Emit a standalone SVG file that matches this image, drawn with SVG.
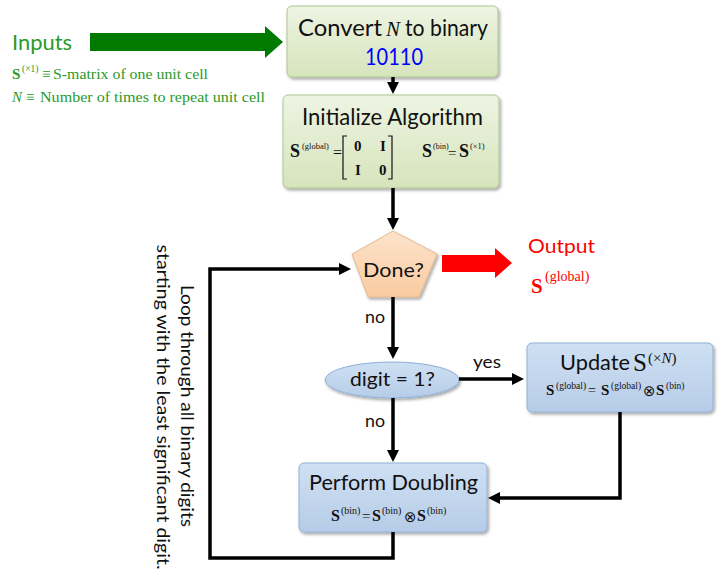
<svg xmlns="http://www.w3.org/2000/svg" width="719" height="581" viewBox="0 0 719 581">
  <defs>
    <linearGradient id="gGreen" x1="0" y1="0" x2="0" y2="1">
      <stop offset="0" stop-color="#EEF4E3"/>
      <stop offset="1" stop-color="#D6E4BC"/>
    </linearGradient>
    <linearGradient id="gBlue" x1="0" y1="0" x2="0" y2="1">
      <stop offset="0" stop-color="#CFE0F3"/>
      <stop offset="1" stop-color="#B6CCE7"/>
    </linearGradient>
    <linearGradient id="gPeach" x1="0" y1="0" x2="0" y2="1">
      <stop offset="0" stop-color="#FDE3CB"/>
      <stop offset="1" stop-color="#F9CBA1"/>
    </linearGradient>
    <filter id="shadow" x="-10%" y="-10%" width="125%" height="130%">
      <feDropShadow dx="1.5" dy="2" stdDeviation="1.4" flood-color="#000" flood-opacity="0.35"/>
    </filter>
    <marker id="head" markerUnits="userSpaceOnUse" markerWidth="13" markerHeight="13" refX="1" refY="6" orient="auto">
      <path d="M0,0 L12,6 L0,12 z" fill="#000"/>
    </marker>
  </defs>
  <style>
    .sans { font-family: Lato, "Open Sans", "Liberation Sans", sans-serif; }
    .serif { font-family: "Liberation Serif", "Times New Roman", serif; }
    .op { font-family: "DejaVu Sans", "DejaVu Serif", sans-serif; }
    .title { font-size: 22.5px; fill: #111; }
    .lbl { font-size: 18px; fill: #111; }
    .bS { font-weight: bold; }
    .sup { font-size: 9.5px; }
    .conn { fill: none; stroke: #000; stroke-width: 3.5; stroke-linejoin: miter; }
    .boxG { fill: url(#gGreen); stroke: #AFC58F; stroke-width: 1; filter: url(#shadow); }
    .boxB { fill: url(#gBlue); stroke: #8FB0D8; stroke-width: 1; filter: url(#shadow); }
  </style>

  <!-- inputs block -->
  <g id="inputs">
    <text class="sans" x="12" y="50" font-size="22" fill="#2A9A2A" textLength="60" lengthAdjust="spacingAndGlyphs">Inputs</text>
    <path d="M90,33 L265,33 L265,26 L283,42 L265,58 L265,51 L90,51 z" fill="#007A00"/>
    <g class="serif" fill="#2A9A2A" font-size="15">
      <text x="12" y="79" class="bS" font-size="15">S</text>
      <text x="22" y="72" class="sup">(×1)</text>
      <text x="42" y="79">≡</text>
      <text x="53" y="79" textLength="155" lengthAdjust="spacingAndGlyphs">S-matrix of one unit cell</text>
      <text x="12" y="102" font-style="italic">N</text>
      <text x="26" y="102">≡</text>
      <text x="40" y="102" textLength="225" lengthAdjust="spacingAndGlyphs">Number of times to repeat unit cell</text>
    </g>
  </g>

  <!-- convert N to binary -->
  <g id="convert">
    <rect class="boxG" x="287" y="6" width="211" height="71" rx="5"/>
    <text class="sans title" x="298" y="36" textLength="84" lengthAdjust="spacingAndGlyphs">Convert</text>
    <text class="serif" x="386" y="36" font-size="21" font-style="italic" fill="#111">N</text>
    <text class="sans title" x="405" y="36" textLength="83" lengthAdjust="spacingAndGlyphs">to binary</text>
    <text class="sans" x="365" y="65" font-size="22.5" fill="#0000FF" textLength="58" lengthAdjust="spacingAndGlyphs">10110</text>
  </g>

  <!-- initialize algorithm -->
  <g id="init">
    <rect class="boxG" x="283" y="95" width="216" height="93" rx="5"/>
    <text class="sans title" x="302" y="125" textLength="181" lengthAdjust="spacingAndGlyphs">Initialize Algorithm</text>
    <g class="serif" fill="#111">
      <text x="290" y="157" class="bS" font-size="18">S</text>
      <text x="302" y="149" font-size="8.5">(global)</text>
      <text x="333" y="158" font-size="16">=</text>
      <path d="M347,136 L343,136 L343,179 L347,179 M388,136 L392,136 L392,179 L388,179" fill="none" stroke="#111" stroke-width="1.2"/>
      <text x="354" y="151" class="bS" font-size="15">0</text>
      <text x="380" y="151" class="bS" font-size="15">I</text>
      <text x="355" y="175" class="bS" font-size="15">I</text>
      <text x="379" y="175" class="bS" font-size="15">0</text>
      <text x="422" y="157" class="bS" font-size="18">S</text>
      <text x="433" y="149" font-size="8">(bin)</text>
      <text x="448" y="158" font-size="15">=</text>
      <text x="459" y="157" class="bS" font-size="18">S</text>
      <text x="470" y="149" font-size="8.5">(×1)</text>
    </g>
  </g>

  <!-- loop decision -->
  <g id="done">
    <path d="M393,231 L437,254 L419,297 L368,297 L352,254 z" fill="url(#gPeach)" stroke="#E3B98F" stroke-width="1" filter="url(#shadow)"/>
    <text class="sans" x="363" y="277" font-size="20" fill="#111" textLength="61" lengthAdjust="spacingAndGlyphs">Done?</text>
  </g>

  <!-- output -->
  <g id="output">
    <path d="M442,255 L495,255 L495,248 L512,263 L495,278 L495,272 L442,272 z" fill="#FF0000"/>
    <text class="sans" x="528" y="253" font-size="20" fill="#FF0000" textLength="67" lengthAdjust="spacingAndGlyphs">Output</text>
    <text class="serif bS" x="531" y="293" font-size="21" fill="#FF0000">S</text>
    <text class="serif" x="545" y="281" font-size="14" fill="#FF0000">(global)</text>
  </g>

  <!-- digit test -->
  <g id="digit">
    <ellipse cx="392" cy="380" rx="67" ry="18" fill="url(#gBlue)" stroke="#8FB0D8" stroke-width="1" filter="url(#shadow)"/>
    <text class="sans" x="350" y="386" font-size="20" fill="#111" textLength="85" lengthAdjust="spacingAndGlyphs">digit = 1?</text>
  </g>

  <!-- update -->
  <g id="update">
    <rect class="boxB" x="527" y="343" width="186" height="69" rx="5"/>
    <text class="sans" x="560" y="370" font-size="21" fill="#111" textLength="70" lengthAdjust="spacingAndGlyphs">Update</text>
    <text class="serif" x="633" y="371" font-size="25" fill="#111">S</text>
    <text class="serif" x="648" y="363" font-size="15" fill="#111">(×<tspan font-style="italic">N</tspan>)</text>
    <g class="serif" fill="#111">
      <text x="546" y="395" class="bS" font-size="15">S</text>
      <text x="556" y="389" class="sup">(global)</text>
      <text x="588" y="395" font-size="14">=</text>
      <text x="601" y="395" class="bS" font-size="15">S</text>
      <text x="611" y="389" class="sup">(global)</text>
      <text class="op" x="643" y="396" font-size="15">⊗</text>
      <text x="656" y="395" class="bS" font-size="15">S</text>
      <text x="666" y="389" class="sup">(bin)</text>
    </g>
  </g>

  <!-- doubling -->
  <g id="doubling">
    <rect class="boxB" x="299" y="463" width="188" height="69" rx="5"/>
    <text class="sans" x="309" y="490" font-size="21" fill="#111" textLength="169" lengthAdjust="spacingAndGlyphs">Perform Doubling</text>
    <g class="serif" fill="#111">
      <text x="331" y="521" class="bS" font-size="16">S</text>
      <text x="341" y="514" font-size="10">(bin)</text>
      <text x="362" y="521" font-size="15">=</text>
      <text x="372" y="521" class="bS" font-size="16">S</text>
      <text x="382" y="514" font-size="10">(bin)</text>
      <text class="op" x="404" y="522" font-size="15">⊗</text>
      <text x="417" y="521" class="bS" font-size="16">S</text>
      <text x="427" y="514" font-size="10">(bin)</text>
    </g>
  </g>

  <!-- connectors -->
  <g id="connectors">
    <path class="conn" d="M393,77 L393,83" marker-end="url(#head)"/>
    <path class="conn" d="M393,188 L393,219" marker-end="url(#head)"/>
    <path class="conn" d="M393,297 L393,348" marker-end="url(#head)"/>
    <path class="conn" d="M393,398 L393,451" marker-end="url(#head)"/>
    <path class="conn" d="M459,379 L513,379" marker-end="url(#head)"/>
    <path class="conn" d="M620,412 L620,498 L499,498" marker-end="url(#head)"/>
    <path class="conn" d="M393,532 L393,558 L210,558 L210,269 L340,269" marker-end="url(#head)"/>
  </g>

  <!-- edge labels -->
  <g id="labels" class="sans lbl">
    <text x="365" y="323" textLength="20" lengthAdjust="spacingAndGlyphs">no</text>
    <text x="473" y="368" textLength="28" lengthAdjust="spacingAndGlyphs">yes</text>
    <text x="365" y="427" textLength="20" lengthAdjust="spacingAndGlyphs">no</text>
  </g>

  <!-- loop note, set vertically -->
  <g id="loop-note" class="sans" font-size="18" fill="#111">
    <text transform="translate(181,406) rotate(90)" text-anchor="middle" textLength="242" lengthAdjust="spacingAndGlyphs">Loop through all binary digits</text>
    <text transform="translate(157,407) rotate(90)" text-anchor="middle" textLength="325" lengthAdjust="spacingAndGlyphs">starting with the least significant digit.</text>
  </g>
</svg>
